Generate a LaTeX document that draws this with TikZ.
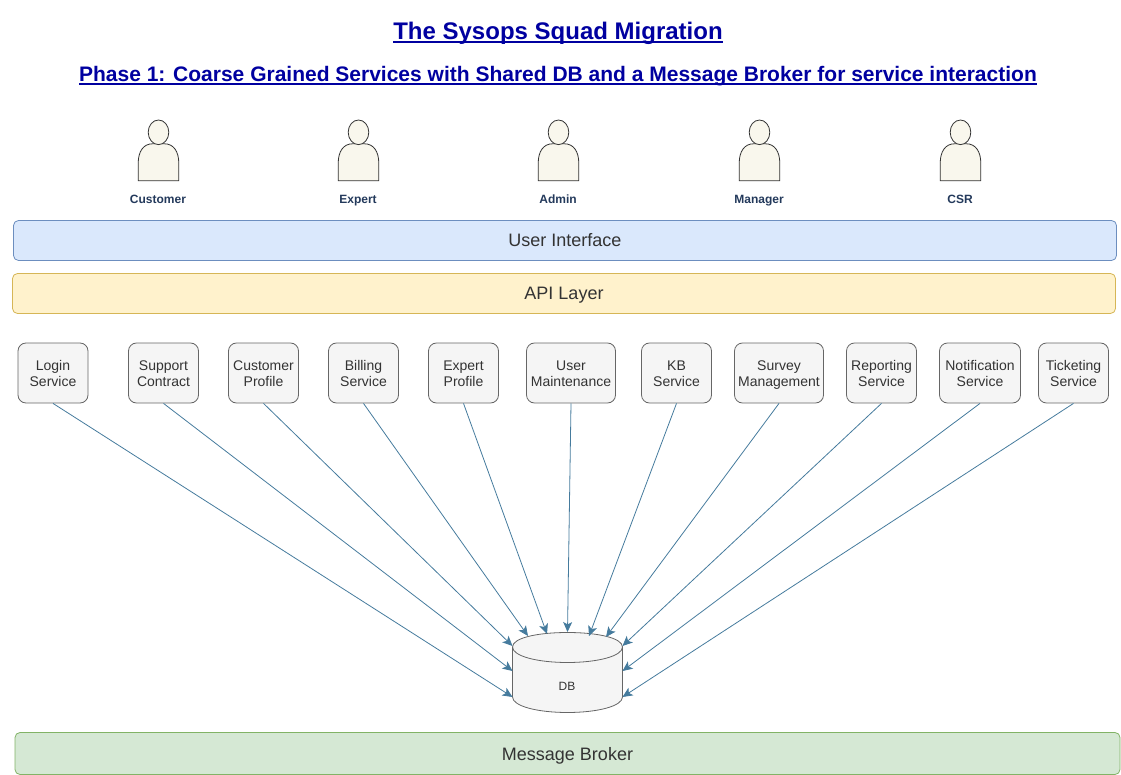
\documentclass[tikz,border=0pt]{standalone}
\usepackage{fontspec}
\setmainfont{Liberation Sans}
\usetikzlibrary{arrows.meta}
\definecolor{titleblue}{HTML}{0000A0}
\definecolor{actortext}{HTML}{23395B}
\definecolor{grayfill}{HTML}{F5F5F5}
\definecolor{grayline}{HTML}{666666}
\definecolor{grayink}{HTML}{333333}
\definecolor{arrowblue}{HTML}{457B9D}
\definecolor{actorfill}{HTML}{F9F7ED}
\definecolor{actorline}{HTML}{333333}
\definecolor{uifill}{HTML}{DAE8FC}
\definecolor{uiline}{HTML}{6C8EBF}
\definecolor{apifill}{HTML}{FFF2CC}
\definecolor{apiline}{HTML}{D6B656}
\definecolor{mbfill}{HTML}{D5E8D4}
\definecolor{mbline}{HTML}{82B366}
\newcommand\titleline[1]{\setbox0\hbox{#1}\rlap{\rule[-2.6pt]{\wd0}{1.5pt}}\box0}
\newcommand\twolines[2]{\rule{0pt}{13pt}#1\\#2\rule[-3pt]{0pt}{3pt}}
\tikzset{
  x=1pt,y=-1pt,
  title1/.style={font=\fontsize{24}{28}\selectfont\bfseries,text=titleblue,inner sep=0,anchor=base},
  title2/.style={font=\fontsize{21}{24}\selectfont\bfseries,text=titleblue,inner sep=0,anchor=base},
  actorlabel/.style={font=\fontsize{12}{14}\selectfont\bfseries,text=actortext,inner sep=0,text height=9,text depth=3},
  band/.style={draw,rounded corners=5,line width=.8pt,font=\fontsize{18}{20}\selectfont,text=grayink,minimum height=40,inner sep=0,text height=15,text depth=2},
  svc/.style={draw=grayline,fill=grayfill,rounded corners=8,line width=.8pt,minimum height=60,inner sep=0,align=center,
    font=\fontsize{14}{16}\selectfont,text=grayink},
  link/.style={draw=arrowblue,line width=.8pt,-{Stealth[length=10pt,width=9pt,inset=2.5pt]}},
  actorbody/.style={draw=actorline,fill=actorfill,line width=.8pt},
  pics/actor/.style={code={
    \path[actorbody] (-20.3,48.5) -- (-20.3,31) .. controls (-20.3,19) and (-15,11.5) .. (-6,11.5)
       -- (6,11.5) .. controls (15,11.5) and (20.3,19) .. (20.3,31) -- (20.3,48.5) -- cycle;
    \path[actorbody] (0,0) ellipse [x radius=10.3,y radius=12.3];
  }}
}
\begin{document}
\begin{tikzpicture}
\useasboundingbox (0,0) rectangle (1121,775);
\node[title1] (t1) at (558,40) {\titleline{The Sysops Squad Migration}};
\node[title2] (t2) at (558,82) {\titleline{Phase 1: Coarse Grained Services with Shared DB and a Message Broker for service interaction}};
% actors
\pic at (158.5,132.3) {actor};
\pic at (358.5,132.3) {actor};
\pic at (558.5,132.3) {actor};
\pic at (759.5,132.3) {actor};
\pic at (960.5,132.3) {actor};
\node[actorlabel] (a1) at (158,201) {Customer};
\node[actorlabel] (a2) at (358,201) {Expert};
\node[actorlabel] (a3) at (558,201) {Admin};
\node[actorlabel] (a4) at (759,201) {Manager};
\node[actorlabel] (a5) at (960,201) {CSR};
% bands
\node[band,draw=uiline,fill=uifill,minimum width=1103] (ui) at (565,240.5) {User Interface};
\node[band,draw=apiline,fill=apifill,minimum width=1103] (api) at (564,293.5) {API Layer};
\node[band,draw=mbline,fill=mbfill,minimum width=1105,minimum height=42] (mb) at (567.5,753.5) {Message Broker};
% services
\node[svc,minimum width=70] (s1) at (53,373) {\twolines{Login}{Service}};
\node[svc,minimum width=70] (s2) at (163.5,373) {\twolines{Support}{Contract}};
\node[svc,minimum width=70] (s3) at (263.5,373) {\twolines{Customer}{Profile}};
\node[svc,minimum width=70] (s4) at (363.5,373) {\twolines{Billing}{Service}};
\node[svc,minimum width=70] (s5) at (463.5,373) {\twolines{Expert}{Profile}};
\node[svc,minimum width=89] (s6) at (571,373) {\twolines{User}{Maintenance}};
\node[svc,minimum width=70] (s7) at (676.5,373) {\twolines{KB}{Service}};
\node[svc,minimum width=89] (s8) at (779,373) {\twolines{Survey}{Management}};
\node[svc,minimum width=70] (s9) at (881.5,373) {\twolines{Reporting}{Service}};
\node[svc,minimum width=81] (s10) at (980,373) {\twolines{Notification}{Service}};
\node[svc,minimum width=70] (s11) at (1073.5,373) {\twolines{Ticketing}{Service}};
% database
\path[draw=grayline,fill=grayfill,line width=.8pt] (512.5,647) -- (512.5,697)
  .. controls (512.5,706) and (537,712.5) .. (567.5,712.5)
  .. controls (598,712.5) and (622.5,706) .. (622.5,697) -- (622.5,647)
  .. controls (622.5,638) and (598,632.5) .. (567.5,632.5)
  .. controls (537,632.5) and (512.5,638) .. (512.5,647) -- cycle;
\path[draw=grayline,line width=.8pt] (512.5,647) .. controls (512.5,656) and (537,662.5) .. (567.5,662.5)
  .. controls (598,662.5) and (622.5,656) .. (622.5,647);
\node[inner sep=0,font=\fontsize{12}{14}\selectfont,text=grayink] (db) at (567,686) {DB};
\coordinate (e1) at (512.5,697);
\coordinate (e2) at (512.5,671);
\coordinate (e3) at (512.5,646);
\coordinate (e4) at (528,636);
\coordinate (e5) at (547,634);
\coordinate (e6) at (567.5,632);
\coordinate (e7) at (589,636);
\coordinate (e8) at (606,637);
\coordinate (e9) at (622.5,646);
\coordinate (e10) at (622.5,671);
\coordinate (e11) at (622.5,697);
\foreach \i in {1,...,11} {\draw[link] (s\i.south) -- (e\i);}
\end{tikzpicture}
\end{document}
